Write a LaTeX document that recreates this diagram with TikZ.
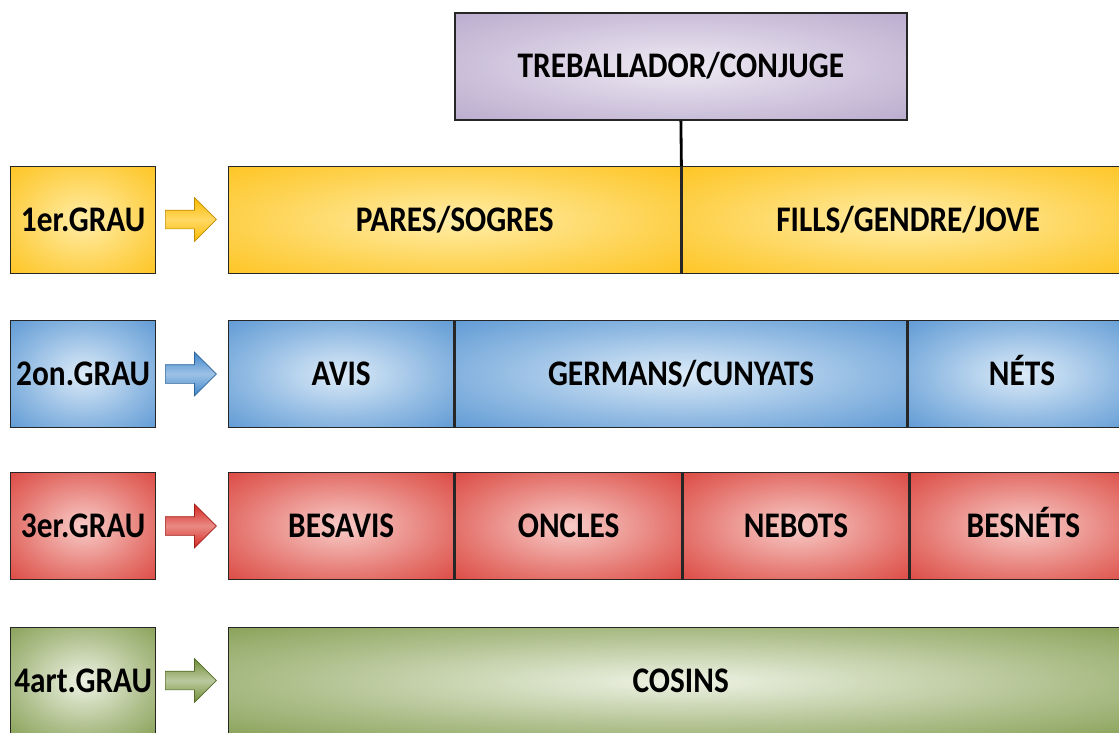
\documentclass[tikz,border=0pt]{standalone}
\usepackage{fontspec}
\setmainfont{Carlito}[FakeStretch=0.87]
\usetikzlibrary{shapes.arrows}

\definecolor{goldout}{HTML}{FDBA00}
\definecolor{goldin}{HTML}{FFEDA8}
\definecolor{blueout}{HTML}{3F85CB}
\definecolor{bluein}{HTML}{DCEBF8}
\definecolor{redout}{HTML}{D42820}
\definecolor{redin}{HTML}{F8CCC8}
\definecolor{greenout}{HTML}{6F8D35}
\definecolor{greenin}{HTML}{EEF2E4}
\definecolor{lilaout}{HTML}{AD9BC4}
\definecolor{lilain}{HTML}{EEEAF3}

\pgfdeclareradialshading{goldshade}{\pgfpoint{0bp}{0bp}}{color(0bp)=(goldin); color(22bp)=(goldin!50!goldout); color(46bp)=(goldout); color(80bp)=(goldout)}
\pgfdeclareradialshading{blueshade}{\pgfpoint{0bp}{0bp}}{color(0bp)=(bluein); color(22bp)=(bluein!50!blueout); color(46bp)=(blueout); color(80bp)=(blueout)}
\pgfdeclareradialshading{redshade}{\pgfpoint{0bp}{0bp}}{color(0bp)=(redin); color(22bp)=(redin!50!redout); color(46bp)=(redout); color(80bp)=(redout)}
\pgfdeclareradialshading{greenshade}{\pgfpoint{0bp}{0bp}}{color(0bp)=(greenin); color(22bp)=(greenin!50!greenout); color(46bp)=(greenout); color(80bp)=(greenout)}
\pgfdeclareradialshading{lilashade}{\pgfpoint{0bp}{0bp}}{color(0bp)=(lilain); color(22bp)=(lilain!50!lilaout); color(46bp)=(lilaout); color(80bp)=(lilaout)}

\tikzset{
  cell/.style={draw=black!85, line width=0.8pt, rectangle, anchor=north west,
    inner sep=0pt, text height=13pt, text depth=0pt,
    font=\fontsize{20.5}{24}\selectfont\bfseries, text=black},
  grau/.style={cell, minimum width=2.9cm, minimum height=2.14cm},
  fila/.style={cell, minimum height=2.14cm},
  fletxa/.style={single arrow, inner sep=0.18cm, minimum height=1.02cm,
    single arrow head extend=0.25cm, anchor=west, line width=0.4pt},
  or/.style={shading=goldshade},
  blau/.style={shading=blueshade},
  vermell/.style={shading=redshade},
  verd/.style={shading=greenshade},
  lila/.style={shading=lilashade}
}

\begin{document}
\begin{tikzpicture} % graus de parentiu
  \useasboundingbox (0,0) rectangle (22.38,-14.64);
  \clip (0,0) rectangle (22.38,-14.64);

  \node[fila, lila, minimum width=9.04cm, line width=1pt] (treb) at (9.08,-0.24) {TREBALLADOR/CONJUGE};

  % 1r grau
  \node[grau, or] (g1) at (0.2,-3.32) {1er.GRAU};
  \node[fila, or, minimum width=9.04cm] (pares) at (4.56,-3.32) {PARES/SOGRES};
  \node[fila, or, minimum width=9.04cm] (fills) at (pares.north east) {FILLS/GENDRE/JOVE};
  \node[fletxa, draw=goldout!75!black, top color=goldout, bottom color=goldout, middle color=goldin!60!goldout] (f1) at (3.3,-4.39) {};

  % 2n grau
  \node[grau, blau] (g2) at (0.2,-6.4) {2on.GRAU};
  \node[fila, blau, minimum width=4.5cm] (avis) at (4.56,-6.4) {AVIS};
  \node[fila, blau, minimum width=9.04cm] (germans) at (avis.north east) {GERMANS/CUNYATS};
  \node[fila, blau, minimum width=4.54cm] (nets) at (germans.north east) {NÉTS};
  \node[fletxa, draw=blueout!75!black, top color=blueout, bottom color=blueout, middle color=bluein!60!blueout] (f2) at (3.3,-7.48) {};

  % 3r grau
  \node[grau, vermell] (g3) at (0.2,-9.44) {3er.GRAU};
  \node[fila, vermell, minimum width=4.5cm] (besavis) at (4.56,-9.44) {BESAVIS};
  \node[fila, vermell, minimum width=4.54cm] (oncles) at (besavis.north east) {ONCLES};
  \node[fila, vermell, minimum width=4.5cm] (nebots) at (oncles.north east) {NEBOTS};
  \node[fila, vermell, minimum width=4.54cm] (besnets) at (nebots.north east) {BESNÉTS};
  \node[fletxa, draw=redout!75!black, top color=redout, bottom color=redout, middle color=redin!60!redout] (f3) at (3.3,-10.52) {};

  % 4t grau
  \node[grau, verd] (g4) at (0.2,-12.54) {4art.GRAU};
  \node[fila, verd, minimum width=18.08cm] (cosins) at (4.56,-12.54) {COSINS};
  \node[fletxa, draw=greenout!75!black, top color=greenout, bottom color=greenout, middle color=greenin!60!greenout] (f4) at (3.3,-13.61) {};

  \draw[line width=1.6pt] (treb.south) -- (pares.north east);
\end{tikzpicture}
\end{document}
